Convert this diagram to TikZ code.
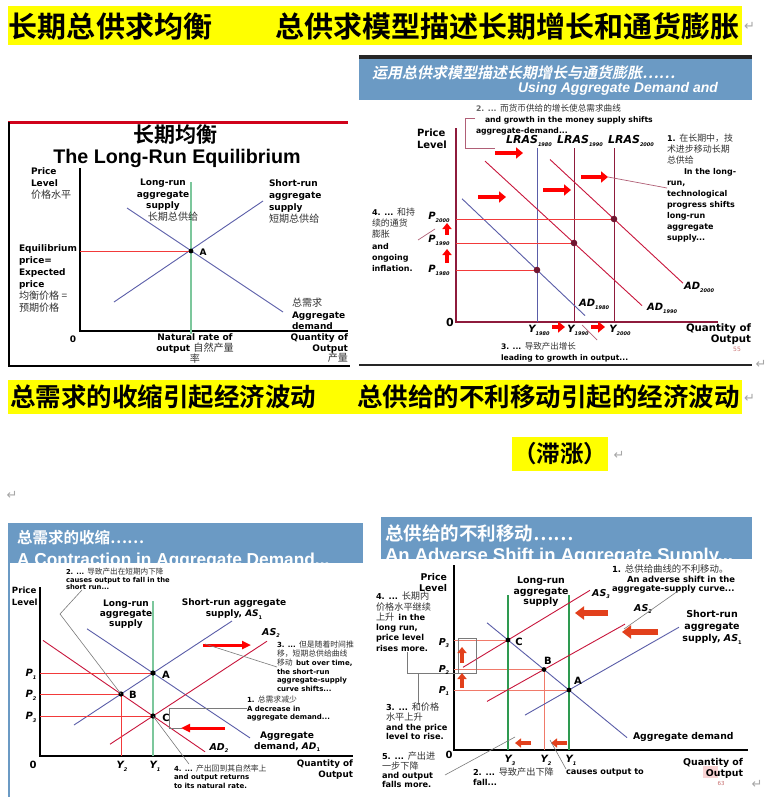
\documentclass[tikz,border=0pt]{standalone}
\usepackage{fontspec}
\setmainfont{DejaVu Sans}
\newfontfamily\cjk{Noto Sans CJK SC}[Scale=1.12]
\newfontfamily\cjkt{Noto Sans CJK SC}[BoldFont={Noto Sans CJK SC Bold}]
\newfontfamily\cjkit{Noto Sans CJK SC}[FakeSlant=0.2,BoldFont={Noto Sans CJK SC Bold},BoldFeatures={FakeSlant=0.2}]
\newfontfamily\arial{Liberation Sans}
\usetikzlibrary{arrows.meta,positioning}
\definecolor{hilite}{HTML}{FFFF00}
\definecolor{bandblue}{HTML}{6B9AC4}
\definecolor{maroon}{HTML}{8E1B3C}
\definecolor{adred}{HTML}{C8163C}
\definecolor{curveblue}{HTML}{5A5DA8}
\definecolor{paleg}{HTML}{7CC79C}
\definecolor{lrgreen}{HTML}{2E9A50}
\definecolor{guidered}{HTML}{F23A3A}
\definecolor{salmon}{HTML}{F07A6A}
\definecolor{leadergray}{HTML}{7A7A7A}
\definecolor{slidered}{HTML}{D0021B}
\definecolor{orangered}{HTML}{E2401C}
\definecolor{pagered}{HTML}{C87070}
\definecolor{pinkhl}{HTML}{F9D4D4}
\newcommand\zh[1]{{\cjk\mdseries\color{black!80}#1}}
\newcommand\lowidx[1]{\raisebox{-0.3em}{\fontsize{5}{5}\selectfont#1}}
\tikzset{
  every node/.style={inner sep=0pt, outer sep=0pt},
  lab/.style 2 args={font=\bfseries\fontsize{#1}{#2}\selectfont, align=left},
  lbi/.style={font=\bfseries\itshape\fontsize{#1}{#1}\selectfont},
  banner/.style={font=\cjkt\bfseries\fontsize{#1}{#1}\selectfont},
  retmark/.style={text=black!35, font=\fontsize{13}{13}\selectfont},
  axis/.style={line width=1.2pt},
  axistwo/.style={draw=maroon, line width=1.2pt},
  curve/.style={draw=curveblue, line width=0.9pt},
  adline/.style={draw=adred, line width=0.9pt},
  guide/.style={draw=guidered, line width=0.8pt},
  guidefour/.style={draw=salmon, line width=0.9pt},
  leader/.style={draw=leadergray, line width=0.6pt},
  maroonthin/.style={draw=maroon!70, line width=0.7pt},
  fatarrow/.style={-{Triangle[length=7pt,width=11pt]}, line width=4.5pt, draw=red},
  uparrow/.style={-{Triangle[length=6pt,width=9pt]}, line width=3.5pt, draw=red},
  thinarrow/.style={-{Triangle[length=9pt,width=8pt]}, line width=3pt, draw=red},
  fatfour/.style={-{Triangle[length=9pt,width=13pt]}, line width=5.5pt, draw=orangered},
  smallfour/.style={-{Triangle[length=6pt,width=9pt]}, line width=3.5pt, draw=orangered},
}
\begin{document}
\begin{tikzpicture}[x=1pt,y=-1pt]
\useasboundingbox (0,0) rectangle (769,797);
\fill[white] (0,0) rectangle (769,797);

% first yellow line
\fill[hilite] (8,6) rectangle (742,45);
\node[banner=29, anchor=west] (banA) at (9,26) {长期总供求均衡};
\node[banner=29, anchor=west] (banB) at (275,26) {总供求模型描述长期增长和通货膨胀};
\node[retmark, anchor=west] (retA) at (744,26) {↵};

% ---- long-run equilibrium
\node[font=\cjkt\bfseries\fontsize{21}{21}\selectfont] (lreZh) at (175,135) {长期均衡};
\node[font=\arial\bfseries\fontsize{19.7}{20}\selectfont] (lreEn) at (177,158) {The Long-Run Equilibrium};
\coordinate (oneO) at (80,331);
\coordinate (oneA) at (191,251);
\draw[axis] (80,168) -- (oneO) -- (348,331);
\draw[paleg, line width=1.2pt] (191,182) -- (191,334);
\draw[curve] (127,208) -- (283,312);
\draw[curve] (114,302) -- (263,201);
\draw[guide] (80,251) -- (oneA);
\fill (oneA) circle (2.4);
\node[lab={9}{12}, anchor=north west] (onePL) at (31,168) {Price\\Level\\\zh{价格水平}};
\node[lab={9}{11.5}, align=center, anchor=north] (oneLR) at (163,179) {Long-run\\aggregate\\supply};
\node[lab={9}{11.5}, anchor=north] (oneLRzh) at (173,212) {\zh{长期总供给}};
\node[lab={9}{12}, anchor=north west] (oneSR) at (269,180) {Short-run\\aggregate\\supply\\\zh{短期总供给}};
\node[lab={9}{12}, anchor=north west] (oneEP) at (19,245) {Equilibrium\\price=\\Expected\\price\\\zh{均衡价格 =}\\\zh{预期价格}};
\node[lab={9}{11.7}, anchor=north west] (oneAD) at (292,298) {\zh{总需求}\\Aggregate\\demand};
\node[lab={9}{12}] (oneZero) at (73,339) {0};
\node[lab={9}{11}, align=center, anchor=north] (oneNR) at (195,334) {Natural rate of\\output \zh{自然产量}\\\zh{率}};
\node[lab={9}{10.5}, align=right, anchor=north east] (oneQ) at (348,334) {Quantity of\\Output\\\zh{产量}};
\node[lab={9}{12}] (oneAl) at (203,252) {A};
\draw[slidered, line width=3pt] (8,123) -- (348,123);
\draw[line width=2.5pt] (9,122) -- (9,366) -- (350,366);

% ---- growth and inflation
\fill[black!85] (359,55) rectangle (752,59);
\fill[bandblue] (359,59) rectangle (752,100);
\node[anchor=west, text=white, font=\cjkit\bfseries\fontsize{15}{15}\selectfont] (twoHzh) at (372,73) {运用总供求模型描述长期增长与通货膨胀……};
\node[anchor=east, text=white, font=\arial\bfseries\itshape\fontsize{14}{14}\selectfont] (twoHen) at (718,89) {Using Aggregate Demand and};
\coordinate (twoO) at (456,322);
\coordinate (e80) at (537,270);
\coordinate (e90) at (574,243);
\coordinate (e00) at (614,219);
\draw[axistwo] (456,128) -- (twoO) -- (718,322);
\draw[curveblue, line width=0.9pt] (537,148) -- (537,322);
\draw[maroon, line width=0.9pt] (574,148) -- (574,322);
\draw[maroon, line width=0.9pt] (614,148) -- (614,322);
\draw[curve] (462,198.75) -- (585,315.6);
\draw[adline] (485,161.1) -- (642,305.6);
\draw[adline] (550,159.5) -- (683,283.2);
\draw[guide] (456,270) -- (e80);
\draw[guide] (456,243) -- (e90);
\draw[guide] (456,219) -- (e00);
\foreach \p in {e80,e90,e00} \fill[maroon!80!black] (\p) circle (3.3);
\draw[fatarrow] (495,153) -- (523,153);
\draw[fatarrow] (478,197) -- (506,197);
\draw[fatarrow] (543,190) -- (571,190);
\draw[fatarrow] (581,177) -- (608,177);
\draw[uparrow] (447,235) -- (447,223);
\draw[uparrow] (447,263) -- (447,249);
\draw[fatarrow, line width=3.5pt] (552,327) -- (565,327);
\draw[fatarrow, line width=3.5pt] (591,327) -- (605,327);
\node[lbi=11] (lr80) at (529,141) {LRAS\lowidx{1980}};
\node[lbi=11] (lr90) at (580,141) {LRAS\lowidx{1990}};
\node[lbi=11] (lr00) at (631,141) {LRAS\lowidx{2000}};
\node[lbi=10] (p00) at (439,217) {P\lowidx{2000}};
\node[lbi=10] (p90) at (439,240) {P\lowidx{1990}};
\node[lbi=10] (p80) at (439,270) {P\lowidx{1980}};
\node[lbi=10] (y80) at (539,330) {Y\lowidx{1980}};
\node[lbi=10] (y90) at (578,330) {Y\lowidx{1990}};
\node[lbi=10] (y00) at (620,330) {Y\lowidx{2000}};
\node[lbi=10] (ad80) at (594,304) {AD\lowidx{1980}};
\node[lbi=10] (ad90) at (662,308) {AD\lowidx{1990}};
\node[lbi=10] (ad00) at (699,287) {AD\lowidx{2000}};
\node[lab={11}{11}] (twoZero) at (450,322) {0};
\node[lab={10}{12}, anchor=north west] (twoPL) at (417,129) {Price\\Level};
\node[lab={7.7}{11}, anchor=north west] (noteTwo) at (476,104) {\textcolor{black!60}{2. ... \zh{而货币供给的增长使总需求曲线}}\\\hspace*{9pt}and growth in the money supply shifts\\aggregate-demand...};
\draw[maroonthin] (475,118) -- (465,118) -- (465,148) -- (495,148);
\node[lab={8}{11}, anchor=north west] (noteOne) at (667,134) {1. \zh{在长期中，技}\\\zh{术进步移动长期}\\\zh{总供给}\\\hspace*{17pt}In the long-\\run,\\technological\\progress shifts\\long-run\\aggregate\\supply...};
\draw[maroonthin] (608,177) -- (noteOne.west |- 0,188);
\node[lab={8}{11.2}, anchor=north west] (noteFour) at (372,208) {4. ... \zh{和持}\\\zh{续的通货}\\\zh{膨胀}\\and\\ongoing\\inflation.};
\draw[maroonthin] (418,240) -- (435,229);
\node[lab={7.6}{11}, anchor=north west] (noteThree) at (501,342) {3. ... \zh{导致产出增长}\\leading to growth in output...};
\draw[maroonthin] (582,325) -- (597,340);
\node[lab={10.2}{11}, align=right, anchor=north east] (twoQ) at (751,324) {Quantity of\\Output};
\node[font=\fontsize{6}{6}\selectfont, text=pagered] (pgA) at (737,349) {55};
\draw[line width=2pt, black!85] (359,365) -- (752,365);
\node[retmark] (retB) at (761,364) {↵};

% second yellow line
\fill[hilite] (8,380) rectangle (742,414);
\node[banner=25.5, anchor=west] (banC) at (10,397) {总需求的收缩引起经济波动};
\node[banner=25.5, anchor=west] (banD) at (357,397) {总供给的不利移动引起的经济波动};
\node[retmark, anchor=west] (retC) at (744,398) {↵};
\node[banner=23.5, fill=hilite, minimum height=34pt, inner xsep=1pt] (banE) at (560,454) {（滞涨）};
\node[retmark] (retD) at (619,455) {↵};
\node[retmark] (retE) at (12,495) {↵};

% ---- contraction in aggregate demand
\fill[bandblue] (8,523) rectangle (363,563);
\begin{scope}
\clip (8,523) rectangle (363,563);
\node[text=white, anchor=west, font=\cjkt\bfseries\fontsize{15.5}{15.5}\selectfont] (threeHzh) at (17,538) {总需求的收缩……};
\node[text=white, anchor=base west, text depth=0pt, font=\arial\bfseries\fontsize{17.3}{17.3}\selectfont] (threeHen) at (17,565) {A Contraction in Aggregate Demand...};
\end{scope}
\draw[bandblue, line width=2.5pt] (9,563) -- (9,797);
\coordinate (threeO) at (40,756);
\coordinate (cA) at (153,673);
\coordinate (cB) at (121,694);
\coordinate (cC) at (153,716);
\draw[axis] (40,587) -- (threeO) -- (353,756);
\draw[paleg, line width=1.3pt] (153,601) -- (153,756);
\draw[curve] (74,725) -- (232,621);
\draw[curve] (87,628.8) -- (250,737.9);
\draw[adline] (43,640.4) -- (205,751.75);
\draw[adline] (110,744.2) -- (267,641.2);
\draw[guide] (40,673) -- (cA);
\draw[guide] (40,694) -- (cB);
\draw[guide] (40,716) -- (cC);
\draw[guide] (cB) -- (121,756);
\foreach \p in {cA,cB,cC} \fill (\p) circle (2.6);
\node[lab={10}{10}] (threeAl) at (166,675) {A};
\node[lab={10}{10}] (threeBl) at (133,695) {B};
\node[lab={10}{10}] (threeCl) at (166,718) {C};
\node[lbi=10] (threeP1) at (31,674) {P\lowidx{1}};
\node[lbi=10] (threeP2) at (31,695) {P\lowidx{2}};
\node[lbi=10] (threeP3) at (31,717) {P\lowidx{3}};
\node[lbi=10] (threeY2) at (122,766) {Y\lowidx{2}};
\node[lbi=10] (threeY1) at (155,766) {Y\lowidx{1}};
\node[lab={10}{10}] (threeZero) at (33,765) {0};
\node[lab={8.6}{12}, anchor=north west] (threePL) at (12,587) {Price\\Level};
\node[lab={9}{10}, align=center, anchor=north] (threeLR) at (126,600) {Long-run\\aggregate\\supply};
\node[lab={9}{11}, align=center, anchor=north] (threeSR) at (234,599) {Short-run aggregate\\supply, \textit{AS}\lowidx{1}};
\node[lbi=9.5] (threeAS2) at (271,633) {AS\lowidx{2}};
\draw[thinarrow] (203,645) -- (251,645);
\node[lab={7}{8.8}, anchor=north west] (threeN3) at (277,641) {3. ... \zh{但是随着时间推}\\\zh{移，短期总供给曲线}\\\zh{移动}\enspace but over time,\\the short-run\\aggregate-supply\\curve shifts...};
\draw[leader] (205,644) -- (threeN3.west |- 0,667);
\node[lab={7}{8.5}, anchor=north west] (threeN1) at (247,696) {1. \zh{总需求减少}\\A decrease in\\aggregate demand...};
\draw[leader] (threeN1.west |- 0,708) -- (169,708) -- (169,728) -- (182,728);
\draw[thinarrow] (225,728) -- (181,728);
\node[lab={9.1}{10.5}, align=center, anchor=north] (threeAD1) at (287,732) {Aggregate\\demand, \textit{AD}\lowidx{1}};
\node[lbi=9.5] (threeAD2) at (219,748) {AD\lowidx{2}};
\node[lab={8.8}{10.5}, align=right, anchor=north east] (threeQ) at (353,760) {Quantity of\\Output};
\node[lab={7}{8.2}, anchor=north west] (threeN4) at (174,765) {4. ... \zh{产出回到其自然率上}\\and output returns\\to its natural rate.};
\draw[leader] (cC) -- (189,764);
\node[lab={6.8}{7.6}, anchor=north west] (threeN2) at (66,568) {2. ... \zh{导致产出在短期内下降}\\causes output to fall in the\\short run...};
\draw[leader] (82,590) -- (60,614) -- (cB);

% ---- adverse shift in aggregate supply
\fill[bandblue] (381,517) rectangle (752,559);
\begin{scope}
\clip (381,517) rectangle (752,559);
\node[text=white, anchor=west, font=\cjkt\bfseries\fontsize{18.5}{18.5}\selectfont] (fourHzh) at (385,533) {总供给的不利移动……};
\node[text=white, anchor=base west, text depth=0pt, font=\arial\bfseries\fontsize{18.5}{18.5}\selectfont] (fourHen) at (385,561) {An Adverse Shift in Aggregate Supply...};
\end{scope}
\coordinate (fourO) at (454,750);
\coordinate (dA) at (569,690);
\coordinate (dB) at (544,669.5);
\coordinate (dC) at (508,640);
\draw[axis] (454,565) -- (fourO) -- (748,750);
\draw[guidefour] (454,640) -- (dC);
\draw[guidefour] (454,669.5) -- (dB);
\draw[guidefour] (454,690) -- (dA);
\draw[guidefour] (dB) -- (544,750);
\draw[lrgreen, line width=2.2pt] (508,595) -- (508,750);
\draw[lrgreen, line width=2.2pt] (569,595) -- (569,750);
\draw[curve] (487,622.8) -- (627,737.6);
\draw[curve] (525,715.1) -- (679,627.2);
\draw[adline] (487,701.4) -- (625,624.1);
\draw[adline] (463,667.3) -- (590,590.3);
\foreach \p in {dA,dB,dC} \fill (\p) circle (2.4);
\draw[leader] (458,638) rectangle (476,673);
\draw[leader] (407,652) -- (407,673) -- (476,673);
\draw[leader] (418,673) -- (418,705);
\draw[fatfour] (658,632) -- (622,632);
\draw[fatfour] (608,613) -- (575,613);
\draw[smallfour] (462,663) -- (462,647);
\draw[smallfour] (462,688) -- (462,673);
\draw[smallfour] (531,743) -- (515,743);
\draw[smallfour] (567,743) -- (551,743);
\node[lbi=9.5] (fourP3) at (444,643) {P\lowidx{3}};
\node[lbi=9.5] (fourP2) at (444,670) {P\lowidx{2}};
\node[lbi=9.5] (fourP1) at (444,691) {P\lowidx{1}};
\node[lbi=10] (fourY3) at (510,760) {Y\lowidx{3}};
\node[lbi=10] (fourY2) at (546,760) {Y\lowidx{2}};
\node[lbi=10] (fourY1) at (571,760) {Y\lowidx{1}};
\node[lab={10}{10}] (fourZero) at (449,755) {0};
\node[lab={10}{10}] (fourAl) at (578,681) {A};
\node[lab={10}{10}] (fourBl) at (548,661) {B};
\node[lab={10}{10}] (fourCl) at (519,642) {C};
\node[lab={9.4}{10.5}, align=center, anchor=north] (fourLR) at (541,577) {Long-run\\aggregate\\supply};
\node[lbi=9.5] (fourAS3) at (601,594) {AS\lowidx{3}};
\node[lbi=9.5] (fourAS2) at (643,609) {AS\lowidx{2}};
\node[lab={8.4}{9.3}, anchor=north west] (fourN1) at (612,565) {1. \zh{总供给曲线的不利移动。}\\\hspace*{15pt}An adverse shift in the\\aggregate-supply curve...};
\draw[leader] (678,591) -- (624,629);
\node[lab={9.5}{12}, align=center, anchor=north] (fourSR) at (712,610) {Short-run\\aggregate\\supply, \textit{AS}\lowidx{1}};
\node[lab={9.3}{11}, align=right, anchor=north east] (fourPL) at (447,573) {Price\\Level};
\node[lab={8.2}{10.3}, anchor=north west] (fourN4) at (376,592) {4. ... \zh{长期内}\\\zh{价格水平继续}\\\zh{上升}\enspace in the\\long run,\\price level\\rises more.};
\node[lab={8.2}{9.7}, anchor=north west] (fourN3) at (386,703) {3. ... \zh{和价格}\\\zh{水平上升}\\and the price\\level to rise.};
\node[lab={8.2}{9.4}, anchor=north west] (fourN5) at (382,752) {5. ... \zh{产出进}\\\zh{一步下降}\\and output\\falls more.};
\draw[leader] (445,775) -- (515,737);
\node[lab={8.2}{10}, anchor=north west] (fourN2) at (473,768) {2. ... \zh{导致产出下降}\\fall...};
\node[lab={8.2}{10}, anchor=north west] (fourN2b) at (566,769) {causes output to};
\draw[leader] (fourN2b.north west) -- (550,740);
\node[lab={9.3}{10}, anchor=west] (fourAD) at (633,737) {Aggregate demand};
\fill[pinkhl] (703,766) rectangle (718,778);
\node[lab={9.4}{11}, align=right, anchor=north east] (fourQ) at (743,758) {Quantity of\\Output};
\node[font=\fontsize{5.5}{5.5}\selectfont, text=pagered] (pgB) at (721,783) {63};
\node[retmark] (retF) at (757,784) {↵};
\end{tikzpicture}
\end{document}
